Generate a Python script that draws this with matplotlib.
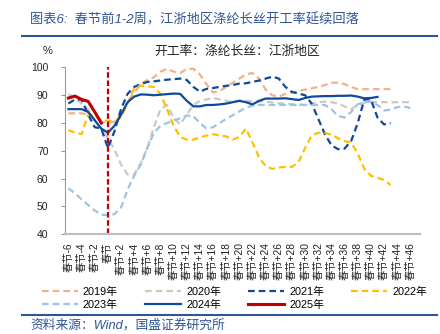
import matplotlib.pyplot as plt
from matplotlib.lines import Line2D

plt.rcParams['font.family'] = ['Liberation Sans', 'Noto Sans CJK SC']

# weeks relative to Spring Festival
weeks = list(range(-6, 48))
tick_weeks = list(range(-6, 47, 2))
tick_labels = ['春节' if w == 0 else '春节%+d' % w for w in tick_weeks]

series_names = ['2019年', '2020年', '2021年', '2022年', '2023年', '2024年', '2025年']

y2019 = [83.5, 83.5, 83.5, 83, 81.5, 80.5, 80, 80.5, 83, 87.5, 91, 94, 95.5, 96.5, 98.5, 99.5,
         98.5, 98, 99.5, 99.5, 97.5, 94, 91, 91.5, 93, 94.5, 96, 97.5, 98, 96, 92, 90,
         89.5, 90.5, 91, 91.5, 92, 92.5, 93, 93.7, 94.5, 94.5, 94, 93, 92.2, 92.2, 92.2, 92.2,
         92.2, 92.2]
y2020 = [90.5, 89, 87, 85, 81, 77.5, 74.5, 70.5, 65, 61.5, 61.5, 65.5, 71, 78.5, 85, 86.5,
         82, 79.5, 83, 86.5, 88, 88.5, 89, 88.5, 88, 87.5, 88, 88, 87.8, 87.8, 87.7, 87.4,
         87.1, 87, 86.8, 86.6, 86.5, 87, 87.5, 87.7, 87.5, 87, 86, 85, 86.5, 87.3, 87.5, 87.5,
         87.5, 87.5, 87.5, 87.5, 87.5]
y2021 = [87, 88.5, 88.5, 83, 78.5, 78, 71, 77, 85, 90.5, 93, 94, 94.8, 95, 95.3, 95.6,
         95.8, 96, 95.5, 93, 91.3, 92.3, 92.6, 93, 93.4, 93.7, 94.2, 94.3, 94.8, 95.3, 96, 96.7,
         96, 93, 91.2, 90.6, 90, 87, 81.5, 76, 72, 70.6, 70.8, 73.5, 80, 88.5, 88.5, 82,
         79.5, 80]
y2022 = [77.5, 76.5, 76, 83, 83, 81, 80.8, 80.5, 82, 87, 92.5, 93.5, 93.2, 93, 90.5, 85,
         79, 75, 74, 74, 74.8, 75.5, 76, 75.5, 75.2, 74, 75, 78, 73, 67.5, 64.5, 63.5,
         64, 64.2, 64.2, 66, 71, 75.5, 76.5, 76.5, 75.8, 74.5, 73.5, 73, 69, 63.5, 61, 60.3,
         59.5, 57.7]
y2023 = [56.5, 54.7, 52.5, 50.5, 48.5, 47, 46.8, 47.2, 49.5, 56, 61, 65, 71, 76.5, 79, 80,
         81, 81.7, 82.7, 82.5, 80, 78, 78.5, 80, 81.5, 82.8, 84.2, 85.5, 86.3, 86.5, 86.5, 86.5,
         86.5, 86.5, 86.5, 86.5, 86.5, 86.5, 86.5, 86.5, 85, 82.5, 82, 84, 86.8, 87.5, 87.7, 86.5,
         84.5, 84.8, 85.7, 86, 85.4]
y2024 = [85, 85, 85, 84, 81, 78, 76.5, 79, 83, 87.5, 89.5, 90.3, 90.2, 90, 90.2, 90.4,
         90.6, 90.5, 88, 86, 86, 86.5, 86.5, 86.7, 87, 87.5, 88, 87.5, 86.7, 88, 88.8, 88.8,
         88.8, 88.9, 88.6, 88.3, 89, 89.5, 89.6, 89.7, 89.7, 89.8, 89.8, 89.9, 89.5, 88.9, 89, 89.4]
y2025 = [89, 89.7, 88.5, 87.8, 84, 80]

series = [y2019, y2020, y2021, y2022, y2023, y2024, y2025]
colors = ['#F4B183', '#C9C9C9', '#0D4A9C', '#FFC000', '#9DC3E6', '#0D4A9C', '#C00000']
dash = (0, (3, 1.8))
styles = [dash, dash, dash, dash, dash, '-', '-']
widths = [1.6, 1.6, 1.6, 1.6, 1.6, 1.6, 2.2]

fig = plt.figure(figsize=(4.4, 3.34), dpi=100)
ax = fig.add_axes([0.148, 0.299, 0.807, 0.499])

handles = []
for name, vals, c, ls, lw in zip(series_names, series, colors, styles, widths):
    h, = ax.plot(weeks[:len(vals)], vals, color=c, linestyle=ls, linewidth=lw, label=name)
    handles.append(h)

ax.axvline(0, ymin=0, ymax=1, color='#C00000', linestyle=(0, (2.5, 1.2)), linewidth=1.6)

ax.set_xlim(-6.5, 47.5)
ax.set_ylim(40, 100)
ax.set_yticks(range(40, 101, 10))
ax.set_xticks(tick_weeks)
ax.set_xticklabels(tick_labels, rotation=90, fontsize=7.4, va='top')
ax.tick_params(axis='x', length=0, pad=6, colors='#222222')
ax.tick_params(axis='y', length=3, pad=9, labelsize=7.5, colors='#999999', labelcolor='#222222')
for s in ['top', 'right']:
    ax.spines[s].set_visible(False)
ax.spines['left'].set_color('#999999')
ax.spines['bottom'].set_color('#BFBFBF')
ax.spines['bottom'].set_linewidth(1.5)

# legend filled row-wise
order = [0, 4, 1, 5, 2, 6, 3]
fig.legend([handles[i] for i in order], [series_names[i] for i in order], ncol=4,
           loc='upper left', bbox_to_anchor=(0.095, 0.142), frameon=False, fontsize=7.8,
           handlelength=3.3, handletextpad=0.5, columnspacing=2.5, labelspacing=0.3,
           borderpad=0, borderaxespad=0)

blue = '#2F5597'
fig.text(0.068, 0.94, '图表6:  春节前1-2周，江浙地区涤纶长丝开工率延续回落', fontsize=9.5,
         style='italic', color=blue, va='center')
fig.add_artist(Line2D([0.05, 0.993], [0.891, 0.891], color=blue, linewidth=1.5))
fig.text(0.098, 0.847, '%', fontsize=8, color='#222222', va='center')
fig.text(0.538, 0.846, '开工率：涤纶长丝：江浙地区', fontsize=9.2, color='#222222',
         ha='center', va='center')
fig.add_artist(Line2D([0.05, 0.993], [0.057, 0.057], color=blue, linewidth=1.5))
fig.text(0.07, 0.027, '资料来源：Wind，国盛证券研究所', fontsize=9.2, style='italic',
         color=blue, va='center')

fig.savefig('out.png', dpi=100)
